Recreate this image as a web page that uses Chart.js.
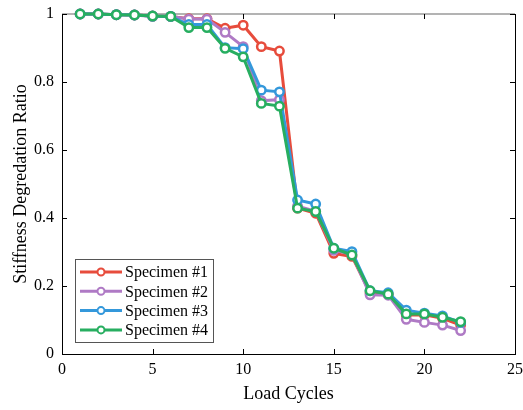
<!DOCTYPE html>
<html>
<head>
<meta charset="utf-8">
<script src="https://cdn.jsdelivr.net/npm/chart.js@4/dist/chart.umd.min.js"></script>
<style>
  html, body { margin: 0; padding: 0; background: #fff; }
  #wrap { width: 523px; height: 410px; }
</style>
</head>
<body>
<div id="wrap"><canvas id="stiffChart" width="523" height="410"></canvas></div>
<script>
// load cycles 1..22
const cycles = [1, 2, 3, 4, 5, 6, 7, 8, 9, 10, 11, 12, 13, 14, 15, 16, 17, 18, 19, 20, 21, 22];

// stiffness degradation ratio per specimen
const specimen1 = [1.0, 1.0, 0.998, 0.997, 0.994, 0.993, 0.986, 0.986, 0.958, 0.967, 0.904, 0.891, 0.429, 0.414, 0.296, 0.287, 0.180, 0.175, 0.115, 0.115, 0.105, 0.085];
const specimen2 = [1.0, 1.0, 0.998, 0.997, 0.993, 0.993, 0.985, 0.985, 0.946, 0.904, 0.745, 0.748, 0.435, 0.420, 0.305, 0.293, 0.174, 0.173, 0.102, 0.093, 0.085, 0.069];
const specimen3 = [1.0, 1.0, 0.998, 0.997, 0.994, 0.993, 0.969, 0.969, 0.901, 0.898, 0.776, 0.771, 0.453, 0.441, 0.311, 0.301, 0.186, 0.180, 0.129, 0.120, 0.112, 0.093];
const specimen4 = [1.0, 1.0, 0.998, 0.997, 0.994, 0.993, 0.960, 0.960, 0.899, 0.874, 0.737, 0.729, 0.429, 0.419, 0.311, 0.291, 0.186, 0.176, 0.118, 0.118, 0.108, 0.095];

const seriesNames = ['Specimen #1', 'Specimen #2', 'Specimen #3', 'Specimen #4'];
const seriesColors = ['#E74C3C', '#AF7AC5', '#3498DB', '#27AE60'];
const seriesValues = [specimen1, specimen2, specimen3, specimen4];

const xTicks = [0, 5, 10, 15, 20, 25];
const yTicks = [0, 0.2, 0.4, 0.6, 0.8, 1];

const serif = "'Liberation Serif', 'Times New Roman', serif";

// frame: gray top edge, black right edge, inward ticks on all four sides
const framePlugin = {
    id: 'frame',
    beforeDatasetsDraw(chart) {
        const { ctx, chartArea: a, scales } = chart;
        const len = 5;
        ctx.save();
        ctx.strokeStyle = '#b3b3b3';
        ctx.lineWidth = 2;
        ctx.beginPath();
        ctx.moveTo(a.left, a.top);
        ctx.lineTo(a.right, a.top);
        ctx.stroke();

        ctx.strokeStyle = '#000';
        ctx.lineWidth = 1;
        ctx.beginPath();
        ctx.moveTo(Math.round(a.right) + 0.5, a.top);
        ctx.lineTo(Math.round(a.right) + 0.5, a.bottom);
        xTicks.forEach(v => {
            const px = Math.round(scales.x.getPixelForValue(v)) + 0.5;
            ctx.moveTo(px, a.bottom);
            ctx.lineTo(px, a.bottom - len);
            ctx.moveTo(px, a.top);
            ctx.lineTo(px, a.top + len);
        });
        yTicks.forEach(v => {
            const py = Math.round(scales.y.getPixelForValue(v)) + 0.5;
            ctx.moveTo(a.left, py);
            ctx.lineTo(a.left + len, py);
            ctx.moveTo(a.right, py);
            ctx.lineTo(a.right - len, py);
        });
        ctx.stroke();
        ctx.restore();
    }
};

// legend box in the lower left of the plot
const boxLegendPlugin = {
    id: 'boxLegend',
    afterDatasetsDraw(chart) {
        const ctx = chart.ctx;
        const left = 75, top = 259, width = 138, height = 83;
        ctx.save();
        ctx.fillStyle = '#fff';
        ctx.fillRect(left, top, width, height);
        ctx.strokeStyle = '#555';
        ctx.lineWidth = 1;
        ctx.strokeRect(left + 0.5, top + 0.5, width, height);
        ctx.font = '16px ' + serif;
        ctx.textBaseline = 'middle';
        chart.data.datasets.forEach((ds, i) => {
            const y = top + 13 + i * 19.3;
            ctx.strokeStyle = ds.borderColor;
            ctx.lineWidth = 3;
            ctx.beginPath();
            ctx.moveTo(left + 5, y);
            ctx.lineTo(left + 47, y);
            ctx.stroke();
            ctx.beginPath();
            ctx.arc(left + 26, y, 3.5, 0, Math.PI * 2);
            ctx.fillStyle = '#fff';
            ctx.fill();
            ctx.lineWidth = 2;
            ctx.stroke();
            ctx.fillStyle = '#000';
            ctx.fillText(ds.label, left + 50, y + 1);
        });
        ctx.restore();
    }
};

// keep the plot box fixed: no extra room for overhanging tick labels
function noOverhang(s) {
    s.paddingLeft = 0;
    s.paddingRight = 0;
    s.paddingTop = 0;
    s.paddingBottom = 0;
}

const ctx = document.getElementById('stiffChart').getContext('2d');

const stiffChart = new Chart(ctx, {
    type: 'line',
    data: {
        datasets: seriesValues.map((vals, i) => ({
            label: seriesNames[i],
            data: cycles.map((c, k) => ({ x: c, y: vals[k] })),
            borderColor: seriesColors[i],
            backgroundColor: '#fff',
            borderWidth: 3,
            pointRadius: 4.2,
            pointBorderWidth: 2.5,
            pointBackgroundColor: '#fff',
            pointBorderColor: seriesColors[i],
            tension: 0,
            clip: false,
            order: 4 - i
        }))
    },
    options: {
        responsive: false,
        animation: false,
        layout: { padding: { left: 0, right: 8, top: 14, bottom: 0 } },
        plugins: {
            legend: { display: false },
            tooltip: { enabled: false }
        },
        scales: {
            x: {
                type: 'linear',
                min: 0,
                max: 25,
                afterBuildTicks: s => { s.ticks = xTicks.map(v => ({ value: v })); },
                afterFit: s => { s.height = 56; noOverhang(s); },
                grid: { display: true, drawOnChartArea: false, drawTicks: false },
                border: { display: true, color: '#000', width: 1 },
                ticks: {
                    color: '#000',
                    padding: 6,
                    maxRotation: 0,
                    callback: v => String(v),
                    font: { family: serif, size: 16 }
                },
                title: {
                    display: true,
                    text: 'Load Cycles',
                    color: '#000',
                    padding: { top: 0, bottom: 5 },
                    font: { family: serif, size: 18 }
                }
            },
            y: {
                min: 0,
                max: 1,
                afterBuildTicks: s => { s.ticks = yTicks.map(v => ({ value: v })); },
                afterFit: s => { s.width = 62; noOverhang(s); },
                grid: { display: true, drawOnChartArea: false, drawTicks: false },
                border: { display: true, color: '#000', width: 1 },
                ticks: {
                    color: '#000',
                    padding: 8,
                    callback: v => String(v),
                    font: { family: serif, size: 16 }
                },
                title: {
                    display: true,
                    text: 'Stiffness Degredation Ratio',
                    color: '#000',
                    padding: { top: 10, bottom: 0 },
                    font: { family: serif, size: 18 }
                }
            }
        }
    },
    plugins: [framePlugin, boxLegendPlugin]
});
</script>
</body>
</html>
